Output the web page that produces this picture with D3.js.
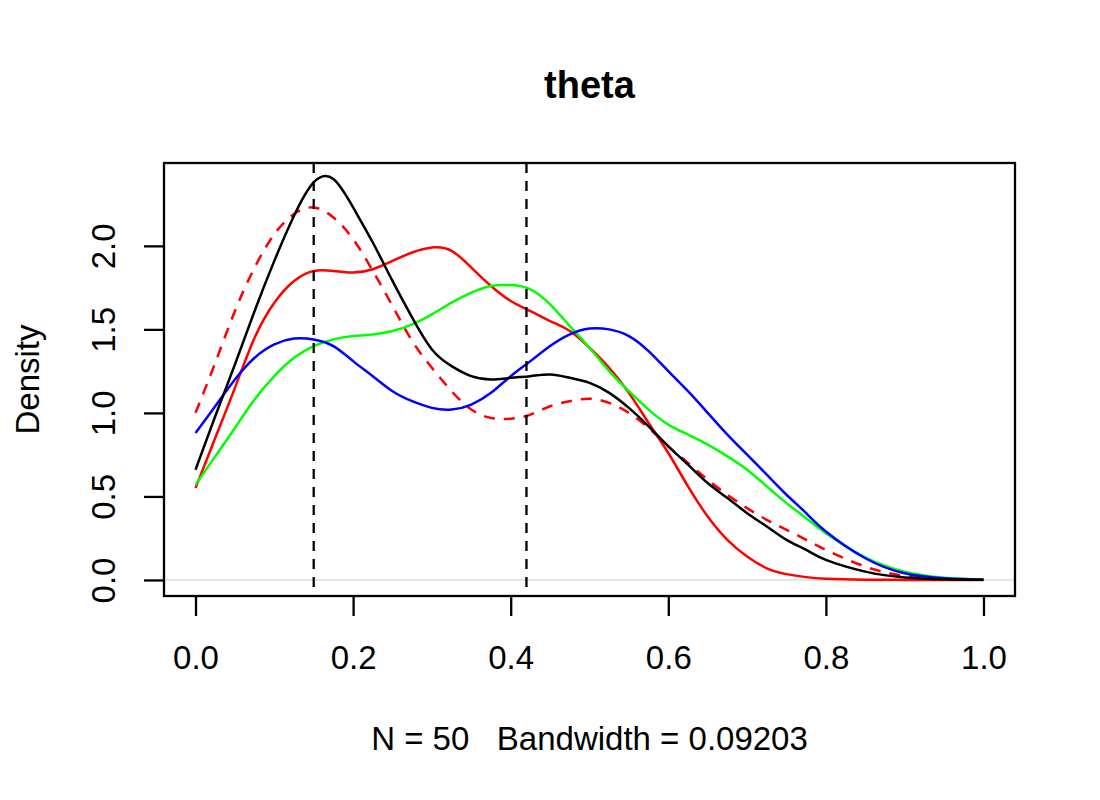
<!DOCTYPE html>
<html>
<head>
<meta charset="utf-8">
<script src="https://cdn.jsdelivr.net/npm/d3@7"></script>
<style>
  body { margin: 0; background: #fff; }
  svg text { font-family: "Liberation Sans", Arial, Helvetica, sans-serif; fill: #000; }
</style>
</head>
<body>
<script>
// theta grid that the curves were read at
var thetaGrid = [0, 0.025, 0.05, 0.075, 0.1, 0.125, 0.15, 0.175, 0.2, 0.225, 0.25, 0.275,
                 0.3, 0.325, 0.35, 0.375, 0.4, 0.425, 0.45, 0.475, 0.5, 0.525, 0.55, 0.575,
                 0.6, 0.625, 0.65, 0.675, 0.7, 0.725, 0.75, 0.775, 0.8, 0.85, 0.9, 0.95, 1.0];

// density values
var blackDens = [0.66, 0.98, 1.29, 1.61, 1.91, 2.18, 2.38, 2.40, 2.23, 2.02, 1.79, 1.57,
                 1.38, 1.28, 1.22, 1.20, 1.21, 1.22, 1.23, 1.21, 1.18, 1.12, 1.03, 0.92,
                 0.80, 0.69, 0.58, 0.49, 0.40, 0.32, 0.24, 0.18, 0.12, 0.05, 0.015, 0.004, 0.001];
var redDens   = [0.55, 0.85, 1.15, 1.45, 1.66, 1.79, 1.85, 1.85, 1.84, 1.86, 1.91, 1.96,
                 1.99, 1.97, 1.87, 1.76, 1.67, 1.61, 1.55, 1.49, 1.39, 1.27, 1.12, 0.94,
                 0.76, 0.56, 0.38, 0.24, 0.14, 0.07, 0.035, 0.017, 0.008, 0.002, 0.0005, 0, 0];
var redDashDens = [1.00, 1.30, 1.61, 1.87, 2.07, 2.19, 2.23, 2.17, 2.04, 1.85, 1.64, 1.43,
                 1.27, 1.13, 1.02, 0.97, 0.965, 0.99, 1.04, 1.07, 1.085, 1.06, 1.00, 0.91,
                 0.80, 0.70, 0.60, 0.51, 0.43, 0.36, 0.30, 0.24, 0.18, 0.08, 0.025, 0.006, 0.001];
var greenDens = [0.57, 0.74, 0.91, 1.08, 1.22, 1.33, 1.40, 1.44, 1.46, 1.47, 1.49, 1.53,
                 1.59, 1.66, 1.72, 1.76, 1.765, 1.74, 1.65, 1.52, 1.39, 1.25, 1.13, 1.02,
                 0.93, 0.87, 0.81, 0.74, 0.66, 0.56, 0.46, 0.37, 0.28, 0.135, 0.05, 0.014, 0.003];
var blueDens  = [0.88, 1.04, 1.20, 1.33, 1.41, 1.445, 1.44, 1.40, 1.31, 1.22, 1.13, 1.07,
                 1.03, 1.02, 1.05, 1.12, 1.22, 1.31, 1.40, 1.47, 1.505, 1.50, 1.46, 1.37,
                 1.25, 1.13, 1.00, 0.87, 0.75, 0.63, 0.51, 0.40, 0.29, 0.13, 0.04, 0.01, 0.002];

var xTicks = [0, 0.2, 0.4, 0.6, 0.8, 1.0];
var yTicks = [0, 0.5, 1.0, 1.5, 2.0];
var refLines = [0.15, 0.42];

var titleText = "theta";
var xLabel = "N = 50   Bandwidth = 0.09203";
var yLabel = "Density";

var width = 1100, height = 800;
var margin = {top: 163, right: 85, bottom: 204, left: 164};
var plotW = width - margin.left - margin.right;
var plotH = height - margin.top - margin.bottom;

var svg = d3.select("body").append("svg")
            .attr("width", width)
            .attr("height", height);

var yMax = 2.40;
var x = d3.scaleLinear().domain([-0.04, 1.04]).range([margin.left, margin.left + plotW]);
var y = d3.scaleLinear().domain([-0.04 * yMax, 1.04 * yMax]).range([margin.top + plotH, margin.top]);

// zero line from plot.density
svg.append("line")
   .attr("x1", margin.left).attr("x2", margin.left + plotW)
   .attr("y1", y(0)).attr("y2", y(0))
   .attr("stroke", "#e6e6e6").attr("stroke-width", 2);

var series = [
  {vals: redDens, color: "#ff0000", dash: null},
  {vals: redDashDens, color: "#ff0000", dash: "11,9"},
  {vals: greenDens, color: "#00ff00", dash: null},
  {vals: blueDens, color: "#0000ff", dash: null},
  {vals: blackDens, color: "#000000", dash: null}
];

var line = d3.line()
             .x(function(d){ return x(d[0]); })
             .y(function(d){ return y(d[1]); })
             .curve(d3.curveNatural);

svg.selectAll(".dens")
   .data(series)
   .enter().append("path")
      .attr("class", "dens")
      .attr("fill", "none")
      .attr("stroke", function(d){ return d.color; })
      .attr("stroke-width", 2.5)
      .attr("stroke-dasharray", function(d){ return d.dash; })
      .attr("d", function(d){
        return line(thetaGrid.map(function(t, i){ return [t, d.vals[i]]; }));
      });

// vertical dashed reference lines
svg.selectAll(".ref")
   .data(refLines)
   .enter().append("line")
      .attr("class", "ref")
      .attr("x1", function(d){ return x(d); })
      .attr("x2", function(d){ return x(d); })
      .attr("y1", margin.top).attr("y2", margin.top + plotH)
      .attr("stroke", "#000").attr("stroke-width", 2.3)
      .attr("stroke-dasharray", "10,8");

// box
svg.append("rect")
   .attr("x", margin.left).attr("y", margin.top)
   .attr("width", plotW).attr("height", plotH)
   .attr("fill", "none").attr("stroke", "#000").attr("stroke-width", 2.3);

// x axis
var xAxis = svg.append("g")
   .attr("transform", "translate(0," + (margin.top + plotH) + ")")
   .call(d3.axisBottom(x).tickValues(xTicks).tickFormat(d3.format(".1f")).tickSize(20).tickSizeOuter(0));
xAxis.select(".domain").remove();
xAxis.selectAll("line").attr("stroke-width", 2.3);
xAxis.selectAll("text")
     .attr("y", 61).attr("dy", "0.35em")
     .style("font-size", "33px");

// y axis
var yAxis = svg.append("g")
   .attr("transform", "translate(" + margin.left + ",0)")
   .call(d3.axisLeft(y).tickValues(yTicks).tickFormat(d3.format(".1f")).tickSize(20).tickSizeOuter(0));
yAxis.select(".domain").remove();
yAxis.selectAll("line").attr("stroke-width", 2.3);
yAxis.selectAll("text")
     .attr("x", null).attr("y", null)
     .attr("dy", "0.35em")
     .attr("text-anchor", "middle")
     .attr("transform", "translate(-61,0) rotate(-90)")
     .style("font-size", "33px");

// labels
svg.append("text")
   .attr("x", margin.left + plotW / 2).attr("y", 85)
   .attr("dy", "0.35em")
   .attr("text-anchor", "middle")
   .style("font-size", "38px").style("font-weight", "bold")
   .text(titleText);

svg.append("text")
   .attr("x", margin.left + plotW / 2).attr("y", 738)
   .attr("dy", "0.35em")
   .attr("text-anchor", "middle")
   .attr("xml:space", "preserve")
   .style("white-space", "pre")
   .style("font-size", "33px")
   .text(xLabel);

svg.append("text")
   .attr("transform", "translate(27," + (margin.top + plotH / 2) + ") rotate(-90)")
   .attr("dy", "0.35em")
   .attr("text-anchor", "middle")
   .style("font-size", "33px")
   .text(yLabel);
</script>
</body>
</html>
